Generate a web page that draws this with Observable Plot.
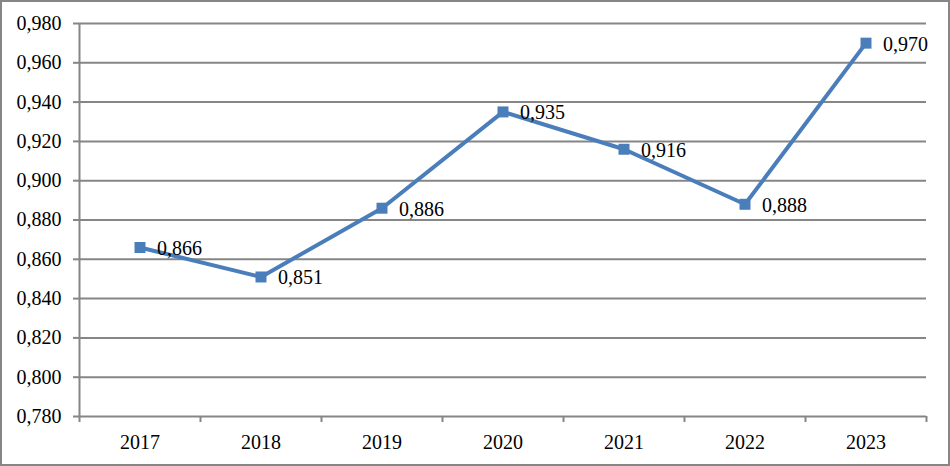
<!DOCTYPE html>
<html>
<head>
<meta charset="utf-8">
<script src="https://cdn.jsdelivr.net/npm/d3@7"></script>
<script src="https://cdn.jsdelivr.net/npm/@observablehq/plot@0.6"></script>
<style>
  html, body { margin: 0; padding: 0; background: #fff; }
  #chart svg { display: block; outline: 2px solid #868686; outline-offset: -2px; }
</style>
</head>
<body>
<div id="chart"></div>
<script>
const years = [2017, 2018, 2019, 2020, 2021, 2022, 2023];
const values = [0.866, 0.851, 0.886, 0.935, 0.916, 0.888, 0.970];
const yTicks = [0.78, 0.80, 0.82, 0.84, 0.86, 0.88, 0.90, 0.92, 0.94, 0.96, 0.98];
const yearBoundaries = [2016.5, 2017.5, 2018.5, 2019.5, 2020.5, 2021.5, 2022.5, 2023.5];

const data = years.map((y, i) => ({year: y, value: values[i]}));
const fmt = v => v.toFixed(3).replace(".", ",");
const gray = "#868686";
const blue = "#4a7ebb";

const chart = Plot.plot({
  width: 950,
  height: 466,
  marginLeft: 79,
  marginRight: 24,
  marginTop: 23,
  marginBottom: 50,
  style: {fontFamily: "'Liberation Serif', 'Times New Roman', serif", fontSize: "20px", color: "#000", background: "#fff"},
  x: {type: "linear", domain: [2016.5, 2023.5]},
  y: {domain: [0.78, 0.98]},
  marks: [
    Plot.gridY(yTicks, {stroke: gray, strokeOpacity: 1, strokeWidth: 2}),
    Plot.ruleX([2016.5], {stroke: gray, strokeWidth: 2}),
    Plot.axisY({ticks: yTicks, tickFormat: fmt, tickSize: 6, tickPadding: 12, stroke: gray, strokeWidth: 2, strokeOpacity: 1, fill: "#000", label: null}),
    Plot.axisX({ticks: years, tickFormat: d => String(d), tickSize: 0, tickPadding: 18, fill: "#000", label: null}),
    Plot.axisX({ticks: yearBoundaries, tickFormat: () => "", tickSize: 6, stroke: gray, strokeWidth: 2, strokeOpacity: 1, label: null}),
    Plot.line(data, {x: "year", y: "value", stroke: blue, strokeWidth: 4}),
    Plot.dot(data, {x: "year", y: "value", symbol: "square", r: 6.2, fill: blue, stroke: null}),
    Plot.text(data, {x: "year", y: "value", text: d => fmt(d.value), textAnchor: "start", dx: 17, dy: 1, fill: "#000"})
  ]
});
document.getElementById("chart").appendChild(chart);
</script>
</body>
</html>
